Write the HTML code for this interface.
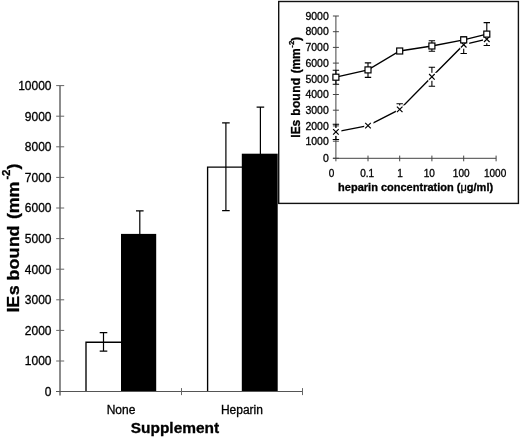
<!DOCTYPE html><html><head><meta charset="utf-8"><title>IEs bound</title><style>html,body{margin:0;padding:0;background:#fff}svg{display:block;filter:blur(.4px)}text{font-family:"Liberation Sans",sans-serif;fill:#000;stroke:#000;stroke-width:.3px}.b{font-weight:bold}</style></head><body>
<svg width="520" height="438" viewBox="0 0 520 438">
<rect width="520" height="438" fill="#fff"/>
<path d="M86 391.6V342.2H121M207.6 391.6V167.1H242" stroke="#000" stroke-width="1.35" fill="none"/>
<rect x="121" y="233.9" width="35.2" height="157.7" fill="#000"/>
<rect x="241.8" y="153.7" width="35.9" height="237.9" fill="#000"/>
<path d="M103.5 332.6V351.1M99.7 332.6h7.6M99.7 351.1h7.6M139.8 210.8V234.5M136.0 210.8h7.6M225.9 122.9V210.6M222.1 122.9h7.6M222.1 210.6h7.6M260.4 107.1V154.5M256.6 107.1h7.6" stroke="#000" stroke-width="1.2" fill="none"/>
<path d="M60 85.6V395.40000000000003" stroke="#8c8c8c" stroke-width="2" fill="none"/>
<path d="M56 391.5H302.5" stroke="#555" stroke-width="1.2" fill="none"/>
<path d="M56.2 361.0h8M56.2 330.4h8M56.2 299.8h8M56.2 269.2h8M56.2 238.6h8M56.2 208.0h8M56.2 177.4h8M56.2 146.8h8M56.2 116.2h8M56.2 85.6h8M181.5 388.1v7M302.5 388.1v7" stroke="#666" stroke-width="1" fill="none"/>
<text x="51.5" y="395.9" font-size="12" text-anchor="end">0</text>
<text x="51.5" y="365.3" font-size="12" text-anchor="end">1000</text>
<text x="51.5" y="334.7" font-size="12" text-anchor="end">2000</text>
<text x="51.5" y="304.1" font-size="12" text-anchor="end">3000</text>
<text x="51.5" y="273.5" font-size="12" text-anchor="end">4000</text>
<text x="51.5" y="242.9" font-size="12" text-anchor="end">5000</text>
<text x="51.5" y="212.3" font-size="12" text-anchor="end">6000</text>
<text x="51.5" y="181.7" font-size="12" text-anchor="end">7000</text>
<text x="51.5" y="151.1" font-size="12" text-anchor="end">8000</text>
<text x="51.5" y="120.5" font-size="12" text-anchor="end">9000</text>
<text x="51.5" y="89.9" font-size="12" text-anchor="end">10000</text>
<text x="121" y="413.5" font-size="12" text-anchor="middle">None</text>
<text x="241.9" y="414" font-size="12" text-anchor="middle">Heparin</text>
<text id="sup" class="b" transform="translate(130.7 433.2) scale(1.075 1)" font-size="14.4">Supplement</text>
<text id="yt" class="b" transform="translate(18.8 313.0) rotate(-90) scale(1.05 1)" font-size="17"><tspan x="0.57" y="0">I</tspan><tspan x="5.05" y="0">E</tspan><tspan x="16.95" y="0">s</tspan> <tspan x="30.95" y="0">b</tspan><tspan x="41.43" y="0">o</tspan><tspan x="52.00" y="0">u</tspan><tspan x="62.86" y="0">n</tspan><tspan x="72.95" y="0">d</tspan> <tspan x="89.43" y="0">(</tspan><tspan x="95.05" y="0">m</tspan><tspan x="109.90" y="0">m</tspan><tspan x="127.24" y="-9.1" font-size="11">-</tspan><tspan x="130.57" y="-9.1" font-size="11">2</tspan><tspan x="136.67" y="0">)</tspan></text>
<rect x="278.7" y="1.5" width="239.7" height="201.9" fill="#fff" stroke="#111" stroke-width="1.4"/>
<path d="M335.9 16.0V161.3M332.9 158.3H496.1M332.9 158.3h6M332.9 141.2h6M332.9 125.9h6M332.9 110.2h6M332.9 94.5h6M332.9 78.8h6M332.9 63.1h6M332.9 47.4h6M332.9 31.7h6M332.9 16.0h6M368.0 155.60000000000002v5.7M399.7 155.60000000000002v5.7M431.9 155.60000000000002v5.7M463.7 155.60000000000002v5.7M496.1 155.60000000000002v5.7" stroke="#444" stroke-width="1" fill="none"/>
<text x="328.8" y="162.0" font-size="10.5" text-anchor="end">0</text>
<text x="328.8" y="144.9" font-size="10.5" text-anchor="end">1000</text>
<text x="328.8" y="129.6" font-size="10.5" text-anchor="end">2000</text>
<text x="328.8" y="113.9" font-size="10.5" text-anchor="end">3000</text>
<text x="328.8" y="98.2" font-size="10.5" text-anchor="end">4000</text>
<text x="328.8" y="82.5" font-size="10.5" text-anchor="end">5000</text>
<text x="328.8" y="66.8" font-size="10.5" text-anchor="end">6000</text>
<text x="328.8" y="51.1" font-size="10.5" text-anchor="end">7000</text>
<text x="328.8" y="35.4" font-size="10.5" text-anchor="end">8000</text>
<text x="328.8" y="19.7" font-size="10.5" text-anchor="end">9000</text>
<text x="331.6" y="177" font-size="10" text-anchor="middle">0</text>
<text x="367.2" y="177" font-size="10" text-anchor="middle">0.1</text>
<text x="400.0" y="177" font-size="10" text-anchor="middle">1</text>
<text x="429.2" y="177" font-size="10" text-anchor="middle">10</text>
<text x="461.2" y="177" font-size="10" text-anchor="middle">100</text>
<text x="495.1" y="177" font-size="10" text-anchor="middle">1000</text>
<text id="xt" class="b" transform="translate(338.1 190.8) scale(1.08 1)" font-size="10.2">heparin concentration (<tspan font-weight="normal">μ</tspan>g/ml)</text>
<text id="yt2" class="b" transform="translate(299.6 138.0) rotate(-90) scale(1.0 1)" font-size="12"><tspan x="0.20" y="0">I</tspan><tspan x="3.80" y="0">E</tspan><tspan x="11.60" y="0">s</tspan> <tspan x="22.30" y="0">b</tspan><tspan x="30.10" y="0">o</tspan><tspan x="37.30" y="0">u</tspan><tspan x="45.20" y="0">n</tspan><tspan x="52.70" y="0">d</tspan> <tspan x="64.80" y="0">(</tspan><tspan x="68.50" y="0">m</tspan><tspan x="78.90" y="0">m</tspan><tspan x="90.20" y="-5.5" font-size="8">-</tspan><tspan x="93.10" y="-5.5" font-size="8">2</tspan><tspan x="97.10" y="0">)</tspan></text>
<path d="M335.9 70.2V84.3M332.7 70.2h6.4M332.7 84.3h6.4M368.0 62.9V77.4M364.8 62.9h6.4M364.8 77.4h6.4M399.7 49.1V52.9M396.5 49.1h6.4M396.5 52.9h6.4M431.9 40.8V51.2M428.7 40.8h6.4M428.7 51.2h6.4M463.7 36.7V43.0M460.5 36.7h6.4M460.5 43.0h6.4M486.8 22.6V38.8M483.6 22.6h6.4M483.6 38.8h6.4M335.9 124.2V139.5M332.7 124.2h6.4M332.7 139.5h6.4M399.7 103.8V109.4M396.5 103.8h6.4M431.9 67.3V86.2M428.7 67.3h6.4M428.7 86.2h6.4M463.7 38.5V53.5M460.5 38.5h6.4M460.5 53.5h6.4M486.8 34.5V45.5M483.6 34.5h6.4M483.6 45.5h6.4" stroke="#000" stroke-width="1.1" fill="none"/>
<polyline points="335.9,131.9 368.0,125.6 399.7,109.4 431.9,76.8 463.7,44.7 486.8,39.2" stroke="#000" stroke-width="1.35" fill="none"/>
<rect x="332.1" y="127.9" width="9.3" height="8" fill="#fff"/>
<path d="M333.1 129.1l5.6 5.6M333.1 134.7l5.6 -5.6" stroke="#000" stroke-width="1.2" fill="none"/>
<rect x="364.2" y="121.6" width="9.3" height="8" fill="#fff"/>
<path d="M365.2 122.8l5.6 5.6M365.2 128.4l5.6 -5.6" stroke="#000" stroke-width="1.2" fill="none"/>
<rect x="395.9" y="105.4" width="9.3" height="8" fill="#fff"/>
<path d="M396.9 106.6l5.6 5.6M396.9 112.2l5.6 -5.6" stroke="#000" stroke-width="1.2" fill="none"/>
<rect x="428.1" y="72.8" width="9.3" height="8" fill="#fff"/>
<path d="M429.1 74.0l5.6 5.6M429.1 79.6l5.6 -5.6" stroke="#000" stroke-width="1.2" fill="none"/>
<rect x="459.9" y="40.7" width="9.3" height="8" fill="#fff"/>
<path d="M460.9 41.9l5.6 5.6M460.9 47.5l5.6 -5.6" stroke="#000" stroke-width="1.2" fill="none"/>
<rect x="483.0" y="35.2" width="9.3" height="8" fill="#fff"/>
<path d="M484.0 36.4l5.6 5.6M484.0 42.0l5.6 -5.6" stroke="#000" stroke-width="1.2" fill="none"/>
<polyline points="335.9,77.2 368.0,69.9 399.7,51.0 431.9,46.0 463.7,39.9 486.8,34.1" stroke="#000" stroke-width="1.35" fill="none"/>
<rect x="332.9" y="74.2" width="6" height="6" fill="#fff" stroke="#000" stroke-width="1.2"/>
<rect x="365.0" y="66.9" width="6" height="6" fill="#fff" stroke="#000" stroke-width="1.2"/>
<rect x="396.7" y="48.0" width="6" height="6" fill="#fff" stroke="#000" stroke-width="1.2"/>
<rect x="428.9" y="43.0" width="6" height="6" fill="#fff" stroke="#000" stroke-width="1.2"/>
<rect x="460.7" y="36.9" width="6" height="6" fill="#fff" stroke="#000" stroke-width="1.2"/>
<rect x="483.8" y="31.1" width="6" height="6" fill="#fff" stroke="#000" stroke-width="1.2"/>
</svg></body></html>
